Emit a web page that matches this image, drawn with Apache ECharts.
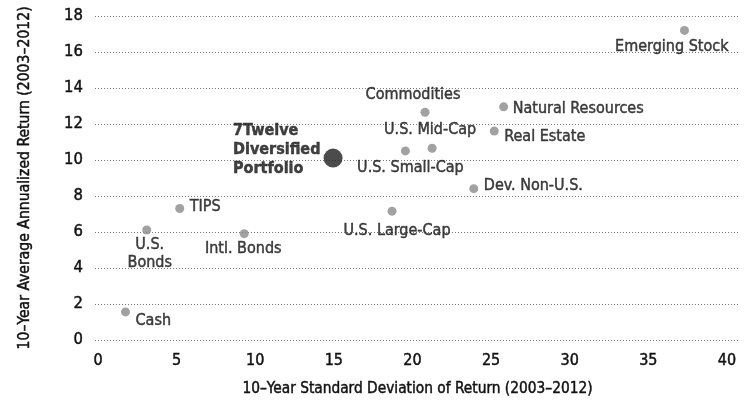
<!DOCTYPE html>
<html>
<head>
<meta charset="utf-8">
<script src="https://cdn.jsdelivr.net/npm/echarts@6/dist/echarts.min.js"></script>
<style>
  html, body { margin: 0; padding: 0; background: #fff; }
  #chart { width: 744px; height: 402px; }
</style>
</head>
<body>
<div id="chart"></div>
<script>
// asset classes: 10-yr standard deviation vs 10-yr annualized return
const assetNames = ['Emerging Stock', 'Commodities', 'Natural Resources', 'U.S. Mid-Cap', 'Real Estate',
  'U.S. Small-Cap', 'Dev. Non-U.S.', 'U.S. Large-Cap', 'TIPS', 'U.S.\nBonds', 'Intl. Bonds', 'Cash']
const assetStdDev = [37.3, 20.8, 25.8, 21.25, 25.2, 19.55, 23.9, 18.7, 5.2, 3.1, 9.3, 1.75]
const assetReturn = [17.2, 12.65, 12.95, 10.65, 11.6, 10.5, 8.4, 7.15, 7.3, 6.1, 5.9, 1.55]

const portfolioName = '7Twelve\nDiversified\nPortfolio'
const portfolioStdDev = 14.95
const portfolioReturn = 10.1

const xTicks = [0, 5, 10, 15, 20, 25, 30, 35, 40]

const FONT = '"DejaVu Sans Condensed", "DejaVu Sans", sans-serif'
const INK = '#111'
// a hairline stroke in the text colour makes the glyphs as heavy as the printed ones
const heavy = { color: INK, textBorderColor: INK, textBorderWidth: 0.45, fontFamily: FONT }

// label placement relative to the dot centre
const labelPlace = {
  'Emerging Stock': { align: 'right', offset: [44, 16] },
  'Commodities': { align: 'center', offset: [-12, -17] },
  'Natural Resources': { align: 'left', offset: [9, 2] },
  'U.S. Mid-Cap': { align: 'center', offset: [-2, -18] },
  'Real Estate': { align: 'left', offset: [10, 6] },
  'U.S. Small-Cap': { align: 'center', offset: [5, 17] },
  'Dev. Non-U.S.': { align: 'left', offset: [10, -3] },
  'U.S. Large-Cap': { align: 'center', offset: [5, 20] },
  'TIPS': { align: 'left', offset: [10, -2] },
  'U.S.\nBonds': { align: 'center', offset: [3, 24] },
  'Intl. Bonds': { align: 'center', offset: [-1, 15] },
  'Cash': { align: 'left', offset: [10, 9] },
}

const assetData = assetNames.map((name, i) => ({
  name,
  value: [assetStdDev[i], assetReturn[i]],
  label: {
    position: 'inside',
    align: labelPlace[name].align,
    verticalAlign: 'middle',
    offset: labelPlace[name].offset,
  },
}))

const chart = echarts.init(document.getElementById('chart'), null, { renderer: 'canvas' })

chart.setOption({
  animation: false,
  backgroundColor: '#fff',
  textStyle: { fontFamily: FONT },
  grid: { left: 95, right: 4, top: 16, bottom: 55 },
  xAxis: {
    type: 'value',
    min: -0.19,
    max: 40.83,
    name: '10–Year Standard Deviation of Return (2003–2012)',
    nameLocation: 'middle',
    nameGap: 42,
    nameTextStyle: { ...heavy, fontSize: 15.3 },
    axisLine: { show: false },
    axisTick: { show: false },
    splitLine: { show: false },
    axisLabel: { ...heavy, customValues: xTicks, fontSize: 16, margin: 13 },
  },
  yAxis: {
    type: 'value',
    min: 0,
    max: 18,
    interval: 2,
    name: '10–Year Average Annualized Return (2003–2012)',
    nameLocation: 'middle',
    nameGap: 62,
    nameTextStyle: { ...heavy, fontSize: 15.6 },
    axisLine: { show: false },
    axisTick: { show: false },
    axisLabel: { ...heavy, fontSize: 16.5, margin: 12 },
    splitLine: { lineStyle: { color: '#7a7a7a', width: 1, type: [1, 2] } },
  },
  series: [
    {
      type: 'scatter',
      data: assetData,
      symbolSize: 9,
      itemStyle: { color: '#8a8a8a' },
      label: { ...heavy, show: true, formatter: '{b}', fontSize: 16, lineHeight: 18 },
      z: 3,
    },
    {
      type: 'scatter',
      data: [{ name: portfolioName, value: [portfolioStdDev, portfolioReturn] }],
      symbolSize: 19,
      itemStyle: { color: '#1f1f1f' },
      label: {
        ...heavy,
        show: true,
        formatter: '{b}',
        position: 'inside',
        align: 'left',
        verticalAlign: 'middle',
        offset: [-100, -8],
        fontWeight: 'bold',
        fontSize: 16,
        lineHeight: 19,
      },
      z: 4,
    },
  ],
})
</script>
</body>
</html>
